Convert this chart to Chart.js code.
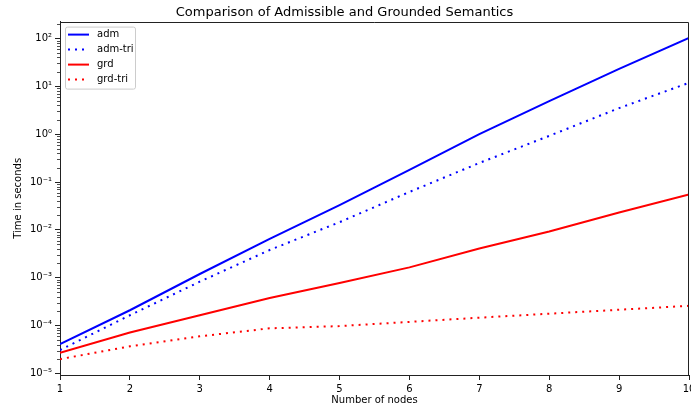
<!DOCTYPE html>
<html>
<head>
<meta charset="utf-8">
<script src="https://cdn.jsdelivr.net/npm/chart.js@4/dist/chart.umd.min.js"></script>
<style>
html,body{margin:0;padding:0;background:#fff;}
#wrap{width:691px;height:407px;position:relative;}
</style>
</head>
<body>
<div id="wrap"><canvas id="c" width="691" height="407"></canvas></div>
<script>
const nodes = [1, 2, 3, 4, 5, 6, 7, 8, 9, 10];
const adm = [4.1e-5, 2.1e-4, 1.2e-3, 6.5e-3, 0.033, 0.18, 1.0, 4.9, 23, 102];
const admTri = [3.1e-5, 1.65e-4, 8.3e-4, 3.8e-3, 0.0145, 0.062, 0.25, 0.92, 3.5, 11.8];
const grd = [2.7e-5, 7.2e-5, 1.65e-4, 3.8e-4, 7.8e-4, 1.65e-3, 4.1e-3, 9.3e-3, 0.023, 0.055];
const grdTri = [2.0e-5, 3.7e-5, 6.0e-5, 8.8e-5, 9.8e-5, 1.2e-4, 1.47e-4, 1.78e-4, 2.15e-4, 2.6e-4];
const xTicks = [1, 2, 3, 4, 5, 6, 7, 8, 9, 10];
const yDecades = [-5, -4, -3, -2, -1, 0, 1, 2];
const yMin = Math.pow(10, -5.03);
const yMax = Math.pow(10, 2.35);

const sup = {'-':'⁻','0':'⁰','1':'¹','2':'²','3':'³','4':'⁴','5':'⁵','6':'⁶','7':'⁷','8':'⁸','9':'⁹'};
function decadeLabel(e){ return '10' + String(e).split('').map(c=>sup[c]).join(''); }
function isDecade(v){ const l = Math.log10(v); return Math.abs(l - Math.round(l)) < 1e-9; }

const pts = arr => nodes.map((n,i)=>({x:n, y:arr[i]}));

Chart.defaults.font.family = 'DejaVu Sans';
Chart.defaults.font.size = 10;
Chart.defaults.color = '#000';

const framePlugin = {
  id: 'frame',
  afterDraw(chart){
    const ctx = chart.ctx, a = chart.chartArea;
    const ys = chart.scales.y;
    ctx.save();
    ctx.strokeStyle = '#222';
    ctx.lineWidth = 0.8;
    ys.ticks.forEach(t=>{
      if (!isDecade(t.value)) {
        const py = Math.round(ys.getPixelForValue(t.value)) + 0.5;
        ctx.beginPath(); ctx.moveTo(a.left - 3, py); ctx.lineTo(a.left, py); ctx.stroke();
      }
    });
    // top and right spines
    ctx.strokeStyle = '#222';
    ctx.lineWidth = 1;
    const t = Math.round(a.top) + 0.5, r = Math.round(a.right) - 0.5;
    ctx.beginPath(); ctx.moveTo(a.left, t); ctx.lineTo(r, t); ctx.lineTo(r, a.bottom); ctx.stroke();
    // legend
    const ds = chart.data.datasets;
    const lx = a.left + 5, ly = a.top + 5, lw = 70, rowH = 15, lh = ds.length*rowH + 2;
    ctx.fillStyle = 'rgba(255,255,255,0.8)';
    ctx.strokeStyle = '#cccccc';
    ctx.lineWidth = 1;
    ctx.beginPath();
    if (ctx.roundRect) ctx.roundRect(lx+0.5, ly+0.5, lw, lh, 2); else ctx.rect(lx+0.5, ly+0.5, lw, lh);
    ctx.fill(); ctx.stroke();
    ds.forEach((d,i)=>{
      const cy = ly + 8 + i*rowH;
      ctx.strokeStyle = d.borderColor;
      ctx.lineWidth = d.borderWidth;
      ctx.setLineDash(d.borderDash || []);
      ctx.beginPath(); ctx.moveTo(lx+3, cy); ctx.lineTo(lx+24, cy); ctx.stroke();
      ctx.setLineDash([]);
      ctx.fillStyle = '#000';
      ctx.font = '10px "DejaVu Sans"';
      ctx.textBaseline = 'middle';
      ctx.textAlign = 'left';
      ctx.fillText(d.label, lx + 32, cy);
    });
    ctx.restore();
  }
};

new Chart(document.getElementById('c'), {
  type: 'line',
  data: {
    datasets: [
      {label:'adm', data:pts(adm), borderColor:'#0000ff', borderWidth:2, pointRadius:0, fill:false},
      {label:'adm-tri', data:pts(admTri), borderColor:'#0000ff', borderWidth:2, borderDash:[2,5], pointRadius:0, fill:false},
      {label:'grd', data:pts(grd), borderColor:'#ff0000', borderWidth:2, pointRadius:0, fill:false},
      {label:'grd-tri', data:pts(grdTri), borderColor:'#ff0000', borderWidth:2, borderDash:[2,5], pointRadius:0, fill:false}
    ]
  },
  options: {
    responsive:false, animation:false, devicePixelRatio:1,
    layout:{padding:{left:0,right:2,top:0,bottom:0}},
    plugins:{
      legend:{display:false},
      tooltip:{enabled:false},
      title:{display:true, text:'Comparison of Admissible and Grounded Semantics', font:{size:13, weight:'normal'}, color:'#000', padding:{top:5,bottom:1}}
    },
    scales:{
      x:{
        type:'linear', min:1, max:10,
        afterBuildTicks(s){ s.ticks = xTicks.map(v=>({value:v})); },
        ticks:{callback:v=>String(v), padding:3, maxRotation:0, autoSkip:false},
        grid:{drawOnChartArea:false, drawTicks:true, tickLength:5, color:'#222'},
        border:{display:true, color:'#222', width:1},
        title:{display:true, text:'Number of nodes', font:{size:10}, padding:{top:2,bottom:1}},
        afterFit(s){ s.height = 32; s.paddingRight = 0; s.paddingLeft = 0; }
      },
      y:{
        type:'logarithmic', min:yMin, max:yMax,
        afterBuildTicks(s){
          const t = [];
          yDecades.forEach(e=>{ for(let m=1;m<=9;m++){ const v = m*Math.pow(10,e); if(v>=yMin && v<=yMax) t.push({value:v}); } });
          s.ticks = t;
        },
        ticks:{callback:(v)=> isDecade(v) ? decadeLabel(Math.round(Math.log10(v))) : '', padding:3, autoSkip:false},
        grid:{drawOnChartArea:false, drawTicks:true, tickLength:5, color:(c)=> (c.tick && isDecade(c.tick.value)) ? '#222' : 'rgba(0,0,0,0)'},
        border:{display:true, color:'#222', width:1},
        title:{display:true, text:'Time in seconds', font:{size:10}, padding:{top:12,bottom:0}},
        afterFit(s){ s.width = 60; s.paddingTop = 0; s.paddingBottom = 0; }
      }
    }
  },
  plugins:[framePlugin]
});
</script>
</body>
</html>
